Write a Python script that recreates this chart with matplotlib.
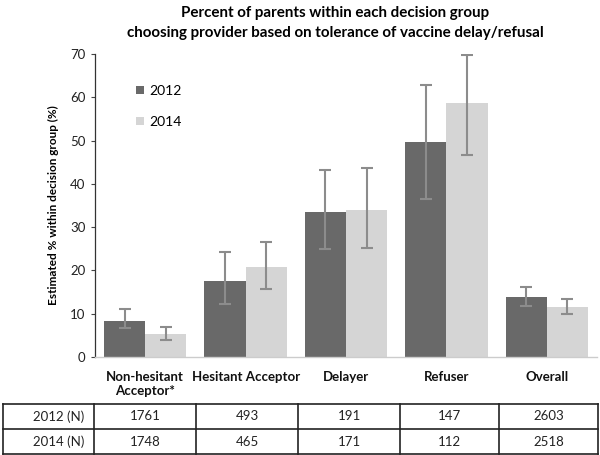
import matplotlib
matplotlib.use("Agg")
import matplotlib.pyplot as plt
import numpy as np
from matplotlib.lines import Line2D

categories = ["Non-hesitant\nAcceptor*", "Hesitant Acceptor", "Delayer", "Refuser", "Overall"]
years = ["2012", "2014"]
vals_2012 = [8.4, 17.6, 33.6, 49.6, 13.8]
vals_2014 = [5.2, 20.8, 33.9, 58.6, 11.5]
lo_2012 = [6.6, 12.2, 24.9, 36.4, 11.8]
hi_2012 = [11.0, 24.3, 43.1, 62.8, 16.1]
lo_2014 = [4.0, 15.8, 25.2, 46.6, 9.9]
hi_2014 = [6.9, 26.5, 43.7, 69.7, 13.5]
n_2012 = [1761, 493, 191, 147, 2603]
n_2014 = [1748, 465, 171, 112, 2518]
row_labels = ["2012 (N)", "2014 (N)"]
yticks = [0, 10, 20, 30, 40, 50, 60, 70]

plt.rcParams['font.family'] = ['Lato', 'DejaVu Sans']

W, H = 600, 455
fig = plt.figure(figsize=(6, 4.55), dpi=100)
ax = fig.add_axes([95/W, 1-357/H, (597-95)/W, (357-54)/H])

x = np.arange(len(categories))
bw = 0.41
dark = "#696969"
light = "#d5d5d5"
ecol = "#8c8c8c"

v12 = np.array(vals_2012); v14 = np.array(vals_2014)
err12 = [v12 - np.array(lo_2012), np.array(hi_2012) - v12]
err14 = [v14 - np.array(lo_2014), np.array(hi_2014) - v14]
ax.bar(x - bw/2, v12, bw, color=dark, label=years[0],
       yerr=err12, error_kw=dict(ecolor=ecol, elinewidth=1.5, capsize=4, capthick=1.5))
ax.bar(x + bw/2, v14, bw, color=light, label=years[1],
       yerr=err14, error_kw=dict(ecolor=ecol, elinewidth=1.5, capsize=4, capthick=1.5))

ax.set_xlim(-0.5, len(categories) - 0.5)
ax.set_ylim(0, 70)
ax.set_yticks(yticks)
ax.tick_params(axis='y', labelsize=9.5, length=3, width=0.8, color="#444444", labelcolor="#222222", pad=4)
ax.set_xticks(x)
ax.set_xticklabels(categories, fontweight='bold', fontsize=9.5, color="#111111")
ax.tick_params(axis='x', length=0, pad=10)
for s in ['top', 'right']:
    ax.spines[s].set_visible(False)
ax.spines['left'].set_color("#333333")
ax.spines['left'].set_linewidth(0.9)
ax.spines['bottom'].set_color("#cccccc")
ax.spines['bottom'].set_linewidth(1.0)
ax.set_ylabel("Estimated % within decision group (%)", fontweight='bold', fontsize=8.5, labelpad=8)

leg = ax.legend(loc='upper left', bbox_to_anchor=((136-95)/502, (357-85)/303), frameon=False,
                borderaxespad=0, borderpad=0,
                handlelength=0.55, handleheight=0.55, handletextpad=0.4, labelspacing=1.35,
                prop=dict(size=10))

fig.text(335/W, 1-13/H, "Percent of parents within each decision group", ha='center', va='center',
         fontweight='bold', fontsize=10.9)
fig.text(335/W, 1-33/H, "choosing provider based on tolerance of vaccine delay/refusal", ha='center', va='center',
         fontweight='bold', fontsize=10.9)

# table
ytop, ymid, ybot = 404, 429, 454
xs_cols = [3, 94, 196, 298, 400, 499, 598]
def fx(px): return px / W
def fy(py): return 1 - py / H
lc = "#222222"
for py in [ytop, ymid, ybot]:
    fig.add_artist(Line2D([fx(3), fx(598)], [fy(py), fy(py)], color=lc, lw=1.2))
for px in xs_cols:
    fig.add_artist(Line2D([fx(px), fx(px)], [fy(ytop), fy(ybot)], color=lc, lw=1.2))
for r, (lab, ns) in enumerate(zip(row_labels, [n_2012, n_2014])):
    yc = fy((ytop + ymid) / 2 if r == 0 else (ymid + ybot) / 2)
    fig.text(fx(84), yc, lab, ha='right', va='center', fontsize=9.5, color="#222222")
    for i, n in enumerate(ns):
        xc = fx((xs_cols[i+1] + xs_cols[i+2]) / 2)
        fig.text(xc, yc, str(n), ha='center', va='center', fontsize=9.5, color="#222222")

fig.savefig("out.png", dpi=100, facecolor='white')
